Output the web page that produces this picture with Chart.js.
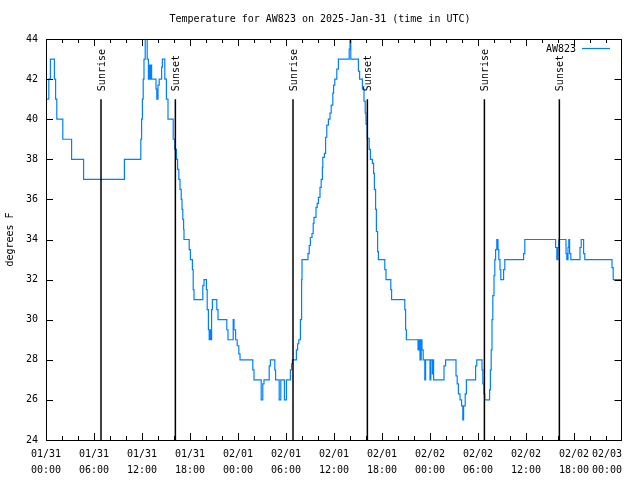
<!DOCTYPE html>
<html>
<head>
<meta charset="utf-8">
<script src="https://cdn.jsdelivr.net/npm/chart.js@4.4.1/dist/chart.umd.min.js"></script>
<style>
  html, body { margin: 0; padding: 0; background: #fff; }
</style>
</head>
<body>
<canvas id="tempChart" width="640" height="480"></canvas>
<script>
// hours since 01/31 00:00 UTC, and the temperature (F) reported from that hour on
const obsHours = [
  0, 0.35, 0.55, 1.05, 1.2, 1.35, 2.1, 3.2, 4.7, 9.8,
  11.85, 11.95, 12.05, 12.15, 12.25, 12.4, 12.65, 12.8, 12.9, 13.0,
  13.1, 13.2, 13.75, 13.85, 14.0, 14.15, 14.45, 14.55, 14.85, 15.05,
  15.25, 15.9, 16.1, 16.3, 16.45, 16.6, 16.75, 16.9, 17.0, 17.1,
  17.2, 17.25, 17.9, 18.05, 18.3, 18.4, 18.5, 19.6, 19.75, 20.05,
  20.15, 20.3, 20.4, 20.5, 20.6, 20.7, 20.8, 21.35, 21.5, 22.6,
  22.75, 23.4, 23.5, 23.7, 23.9, 24.1, 24.25, 25.85, 26.0, 26.9,
  27.1, 27.25, 27.9, 28.05, 28.6, 28.7, 29.15, 29.35, 29.8, 30.05,
  30.55, 30.7, 30.8, 31.3, 31.45, 31.6, 31.8, 31.95, 32.0, 32.75,
  32.9, 33.05, 33.25, 33.4, 33.5, 33.75, 33.9, 34.05, 34.25, 34.4,
  34.55, 34.6, 34.8, 34.95, 35.1, 35.3, 35.5, 35.65, 35.85, 35.95,
  36.1, 36.35, 36.55, 37.9, 38.0, 38.1, 39.05, 39.2, 39.55, 39.75,
  39.9, 40.0, 40.15, 40.4, 40.55, 40.8, 40.95, 41.05, 41.2, 41.3,
  41.45, 41.55, 42.35, 42.5, 43.1, 43.2, 44.85, 44.95, 45.05, 46.5,
  46.6, 46.75, 46.9, 47.0, 47.15, 47.35, 47.45, 48.0, 48.1, 48.3,
  48.35, 48.45, 49.75, 49.95, 51.25, 51.4, 51.55, 51.75, 51.95, 52.1,
  52.2, 52.4, 52.55, 53.7, 53.85, 54.5, 54.6, 54.75, 54.85, 55.45,
  55.55, 55.65, 55.75, 55.85, 56.0, 56.1, 56.2, 56.35, 56.5, 56.6,
  56.75, 56.85, 57.2, 57.35, 59.7, 59.85, 63.7, 63.85, 64.0, 64.1,
  65.0, 65.1, 65.25, 65.35, 65.45, 65.6, 66.75, 66.9, 67.2, 67.35,
  70.75, 70.9, 72
];
const obsTempF = [
  41, 42, 43, 42, 41, 40, 39, 38, 37, 38,
  39, 40, 41, 42, 43, 44.3, 43, 42, 42.7, 42,
  42.7, 42, 41.5, 41, 41.7, 42, 42.6, 43, 42, 41,
  40, 39, 38.5, 38, 37.5, 37, 36.5, 36, 35.5, 35,
  34.5, 34, 33.5, 33, 32.5, 31.5, 31, 31.7, 32, 31.5,
  30.5, 29.5, 29, 29.5, 29, 30.5, 31, 30.5, 30, 29.5,
  29, 30, 29.5, 29, 28.7, 28.3, 28, 27.5, 27, 26,
  26.8, 27, 27.7, 28, 27.5, 27, 26, 27, 26, 27,
  27.5, 27.8, 28, 28.5, 28.8, 29, 30, 32, 33, 33.3,
  33.7, 34.1, 34.3, 34.8, 35.1, 35.6, 35.8, 36.1, 36.6, 37,
  37.6, 38.1, 38.3, 39.1, 39.7, 40, 40.3, 40.7, 41.3, 41.7,
  42, 42.5, 43, 43.5, 44.2, 43, 42.4, 42, 41.5, 40.9,
  40.3, 39.75, 39.05, 38.5, 38, 37.8, 37.3, 36.5, 35.5, 34.4,
  33.4, 33, 32.5, 32, 31.5, 31, 30.5, 29.5, 29, 28.5,
  29, 28, 29, 28.5, 28, 27, 28, 27, 28, 27.3,
  28, 27, 27.7, 28, 27.2, 26.8, 26.3, 26, 25.7, 25,
  25.7, 26.3, 27, 27.7, 28, 27.5, 26.8, 26.3, 26, 26.5,
  27.5, 28.5, 30, 31.2, 32.2, 33, 33.5, 34, 33.5, 33,
  32.5, 32, 32.5, 33, 33.3, 34, 33.6, 33, 33.6, 34,
  33.3, 33, 33.6, 34, 33.3, 33, 33.6, 34, 33.3, 33,
  32.6, 32, 32
];

// sunrise / sunset marks (hours since 01/31 00:00 UTC)
const sunHours = [6.875, 16.17, 30.875, 40.17, 54.8, 64.17];
const sunNames = ['Sunrise', 'Sunset', 'Sunrise', 'Sunset', 'Sunrise', 'Sunset'];
const sunLineTop = 41;

// x axis tick labels, one per 6 hours
const tickDates = ['01/31', '01/31', '01/31', '01/31', '02/01', '02/01', '02/01', '02/01',
                   '02/02', '02/02', '02/02', '02/02', '02/03'];
const tickTimes = ['00:00', '06:00', '12:00', '18:00', '00:00', '06:00', '12:00', '18:00',
                   '00:00', '06:00', '12:00', '18:00', '00:00'];

const chartTitle = 'Temperature for AW823 on 2025-Jan-31 (time in UTC)';
const yTitle = 'degrees F';
const stationName = 'AW823';

const lineBlue = 'rgb(0, 128, 255)';
const monoFont = '10px "DejaVu Sans Mono", monospace';

const sunDatasets = sunHours.map((h, i) => ({
    label: sunNames[i],
    data: [{ x: h, y: 24 }, { x: h, y: sunLineTop }],
    borderColor: '#000',
    borderWidth: 1.5,
    pointRadius: 0,
    order: 0
}));

// frame, inward ticks, titles, legend and sun labels (gnuplot look)
const gnuplotDecor = {
    id: 'gnuplotDecor',
    afterDraw(chart) {
        const ctx = chart.ctx;
        const area = chart.chartArea;
        const xs = chart.scales.x;
        const ys = chart.scales.y;
        const frameRight = area.right - 0.5;

        ctx.save();
        ctx.strokeStyle = '#000';
        ctx.lineWidth = 1;
        ctx.strokeRect(area.left + 0.5, area.top + 0.5, area.right - area.left - 1, area.bottom - area.top);

        ctx.beginPath();
        for (let h = 0; h <= 72; h += 2) {
            const px = Math.min(Math.round(xs.getPixelForValue(h)) + 0.5, frameRight);
            const len = h % 6 === 0 ? 7 : 4;
            ctx.moveTo(px, area.bottom);
            ctx.lineTo(px, area.bottom - len);
            ctx.moveTo(px, area.top);
            ctx.lineTo(px, area.top + len);
        }
        ys.ticks.forEach(t => {
            const py = Math.round(ys.getPixelForValue(t.value)) + 0.5;
            ctx.moveTo(area.left, py);
            ctx.lineTo(area.left + 7, py);
            ctx.moveTo(frameRight, py);
            ctx.lineTo(frameRight - 7, py);
        });
        ctx.stroke();

        ctx.fillStyle = '#000';
        ctx.font = monoFont;
        ctx.textBaseline = 'middle';
        ctx.textAlign = 'center';
        ctx.fillText(chartTitle, 320, 19);

        ctx.save();
        ctx.translate(10, (area.top + area.bottom) / 2);
        ctx.rotate(-Math.PI / 2);
        ctx.fillText(yTitle, 0, 0);
        ctx.restore();

        // key
        ctx.textAlign = 'right';
        ctx.fillText(stationName, 576, 49);
        ctx.strokeStyle = lineBlue;
        ctx.lineWidth = 1.2;
        ctx.beginPath();
        ctx.moveTo(582, 48.5);
        ctx.lineTo(610, 48.5);
        ctx.stroke();

        // sun labels above each vertical line
        ctx.textAlign = 'left';
        sunDatasets.forEach((ds, i) => {
            const meta = chart.getDatasetMeta(i);
            const top = meta.data[1];
            ctx.save();
            ctx.translate(top.x + 1, top.y - 8);
            ctx.rotate(-Math.PI / 2);
            ctx.fillText(sunNames[i], 0, 0);
            ctx.restore();
        });
        ctx.restore();
    }
};

const ctx = document.getElementById('tempChart').getContext('2d');

new Chart(ctx, {
    type: 'line',
    data: {
        datasets: [
            ...sunDatasets,
            {
                label: stationName,
                data: obsHours.map((h, i) => ({ x: h, y: obsTempF[i] })),
                borderColor: lineBlue,
                borderWidth: 1.2,
                pointRadius: 0,
                stepped: true,
                order: 1
            }
        ]
    },
    options: {
        responsive: false,
        animation: false,
        events: [],
        layout: { padding: { left: 0, right: 18, top: 39, bottom: 0 } },
        plugins: {
            legend: { display: false },
            tooltip: { enabled: false }
        },
        scales: {
            x: {
                type: 'linear',
                min: 0,
                max: 72,
                grid: { display: false, drawTicks: false },
                border: { display: false },
                ticks: {
                    stepSize: 6,
                    padding: 6,
                    maxRotation: 0,
                    autoSkip: false,
                    color: '#000',
                    font: { family: '"DejaVu Sans Mono", monospace', size: 10, lineHeight: 1.6 },
                    callback: (value) => {
                        const i = Math.round(value / 6);
                        // last label sits flush with the right border, like gnuplot
                        if (i === tickDates.length - 1) {
                            return [tickDates[i] + '     ', tickTimes[i] + '     '];
                        }
                        return [tickDates[i], tickTimes[i]];
                    }
                },
                afterFit: (scale) => {
                    scale.height = 40;
                    scale.paddingLeft = 0;
                    scale.paddingRight = 0;
                }
            },
            y: {
                min: 24,
                max: 44,
                grid: { display: false, drawTicks: false },
                border: { display: false },
                ticks: {
                    stepSize: 2,
                    padding: 8,
                    color: '#000',
                    font: { family: '"DejaVu Sans Mono", monospace', size: 10 }
                },
                afterFit: (scale) => {
                    scale.width = 46;
                }
            }
        }
    },
    plugins: [gnuplotDecor]
});
</script>
</body>
</html>
